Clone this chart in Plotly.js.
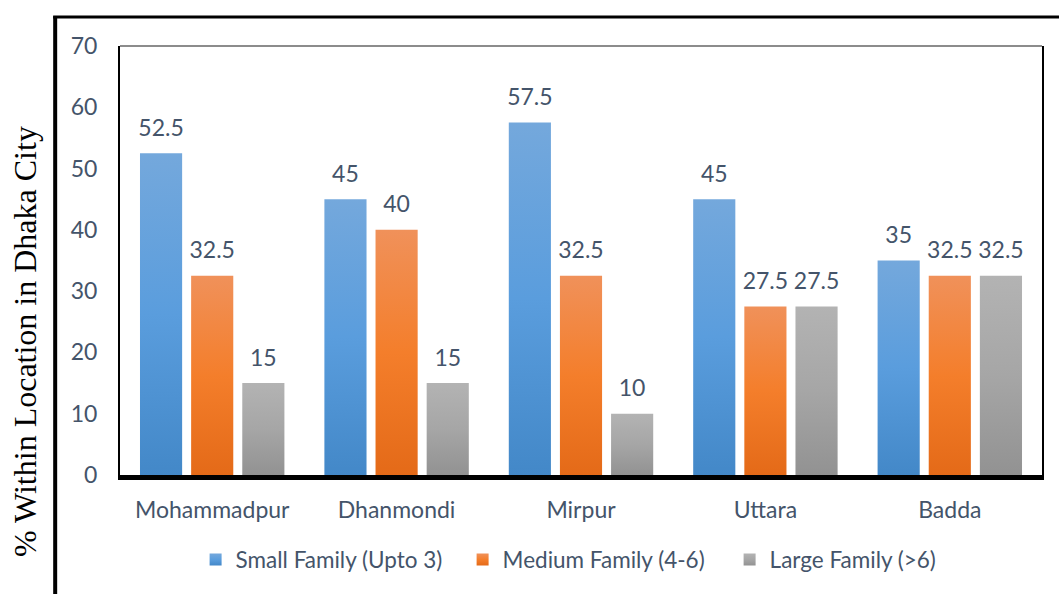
<!DOCTYPE html>
<html>
<head>
<meta charset="utf-8">
<script src="https://cdn.plot.ly/plotly-3.0.1.min.js"></script>
<style>
  html, body { margin: 0; padding: 0; background: #ffffff; }
  #chart { width: 1059px; height: 594px; }
</style>
</head>
<body>
<div id="chart"></div>
<script>
const categories = ["Mohammadpur", "Dhanmondi", "Mirpur", "Uttara", "Badda"];
const seriesNames = ["Small Family (Upto 3)", "Medium Family (4-6)", "Large Family (>6)"];
const smallFamily = [52.5, 45, 57.5, 45, 35];
const mediumFamily = [32.5, 40, 32.5, 27.5, 32.5];
const largeFamily = [15, 15, 10, 27.5, 32.5];
const seriesColors = ["#5b9bd5", "#ed7d31", "#a5a5a5"];
const gradientStops = [
  ["#74a8dc", "#5a9ddd", "#4388c8"],
  ["#f0915a", "#f47e2b", "#e46a18"],
  ["#b3b3b3", "#a6a6a6", "#929292"]
];
const yTicks = [0, 10, 20, 30, 40, 50, 60, 70];
const yTitle = "% Within Location in Dhaka City";

const textColor = "#44546a";
const fontFamily = "Lato, 'Open Sans', sans-serif";
const fontSize = 23;
const allSeries = [smallFamily, mediumFamily, largeFamily];
const groups = ["g1", "g2", "g3"];

const traces = [];
allSeries.forEach((vals, i) => {
  traces.push({
    type: "bar",
    name: seriesNames[i],
    x: categories,
    y: vals,
    offsetgroup: groups[i],
    marker: { color: seriesColors[i], line: { width: 0 } },
    hoverinfo: "skip"
  });
});
allSeries.forEach((vals, i) => {
  traces.push({
    type: "scatter",
    mode: "markers+text",
    x: categories,
    y: vals,
    offsetgroup: groups[i],
    text: vals.map(v => String(v)),
    textposition: "top center",
    textfont: { family: fontFamily, size: fontSize, color: textColor },
    marker: { size: 17, opacity: 0, color: seriesColors[i] },
    showlegend: false,
    hoverinfo: "skip",
    cliponaxis: false
  });
});

const layout = {
  width: 1059,
  height: 594,
  margin: { l: 120, r: 17, t: 46, b: 119 },
  paper_bgcolor: "#ffffff",
  plot_bgcolor: "#ffffff",
  barmode: "group",
  bargap: 0.168,
  bargroupgap: 0.176,
  scattermode: "group",
  scattergap: 0.168,
  font: { family: fontFamily, size: fontSize, color: textColor },
  xaxis: {
    type: "category",
    showgrid: false,
    showline: true,
    linecolor: "#000000",
    linewidth: 5,
    ticks: "",
    ticklabelstandoff: 10,
    tickfont: { family: fontFamily, size: fontSize, color: textColor },
    fixedrange: true
  },
  yaxis: {
    range: [0, 70],
    tickvals: yTicks,
    ticktext: yTicks.map(String),
    showgrid: false,
    zeroline: false,
    showline: true,
    mirror: true,
    linecolor: "#000000",
    linewidth: 2,
    ticks: "",
    ticklabelstandoff: 16,
    tickfont: { family: fontFamily, size: fontSize, color: textColor },
    fixedrange: true
  },
  showlegend: true,
  legend: {
    orientation: "h",
    x: 0.082,
    xanchor: "left",
    y: -0.198,
    yanchor: "middle",
    entrywidth: 222,
    font: { family: fontFamily, size: 22.5, color: textColor },
    bgcolor: "rgba(0,0,0,0)"
  },
  annotations: [{
    text: yTitle,
    xref: "paper",
    yref: "paper",
    x: -0.103,
    y: 0.31,
    xanchor: "center",
    yanchor: "middle",
    textangle: -90,
    showarrow: false,
    font: { family: "'Liberation Serif', 'Times New Roman', serif", size: 32, color: "#000000" }
  }],
  shapes: [
    { type: "line", xref: "paper", yref: "paper", x0: 0, x1: 1, y0: 1, y1: 1,
      line: { color: "#8c8c8c", width: 2 } },
    { type: "line", xref: "paper", yref: "paper", x0: -0.0703, x1: -0.0703, y0: 1.0695, y1: -0.3,
      line: { color: "#000000", width: 4 } },
    { type: "line", xref: "paper", yref: "paper", x0: -0.0725, x1: 1.05, y0: 1.0675, y1: 1.0675,
      line: { color: "#000000", width: 3 } }
  ]
};

function applyGradients(gd) {
  const svg = gd.querySelector("svg.main-svg");
  if (!svg) return;
  const ns = "http://www.w3.org/2000/svg";
  let defs = svg.querySelector("defs");
  if (!defs) { defs = document.createElementNS(ns, "defs"); svg.insertBefore(defs, svg.firstChild); }
  gradientStops.forEach((stops, i) => {
    const lg = document.createElementNS(ns, "linearGradient");
    lg.setAttribute("id", "barGrad" + i);
    lg.setAttribute("x1", "0"); lg.setAttribute("y1", "0");
    lg.setAttribute("x2", "0"); lg.setAttribute("y2", "1");
    stops.forEach((c, k) => {
      const st = document.createElementNS(ns, "stop");
      st.setAttribute("offset", String(k / (stops.length - 1)));
      st.setAttribute("stop-color", c);
      lg.appendChild(st);
    });
    defs.appendChild(lg);
  });
  const barTraces = gd.querySelectorAll(".barlayer .trace.bars");
  barTraces.forEach((tr, i) => {
    tr.querySelectorAll(".point path").forEach(p => { p.style.fill = "url(#barGrad" + i + ")"; });
  });
  const legendItems = gd.querySelectorAll(".legend .traces");
  legendItems.forEach((it, i) => {
    it.querySelectorAll(".legendpoints path").forEach(p => { p.style.fill = "url(#barGrad" + i + ")"; });
  });
}

Plotly.newPlot("chart", traces, layout, { staticPlot: true, displayModeBar: false })
  .then(gd => applyGradients(gd));
</script>
</body>
</html>
